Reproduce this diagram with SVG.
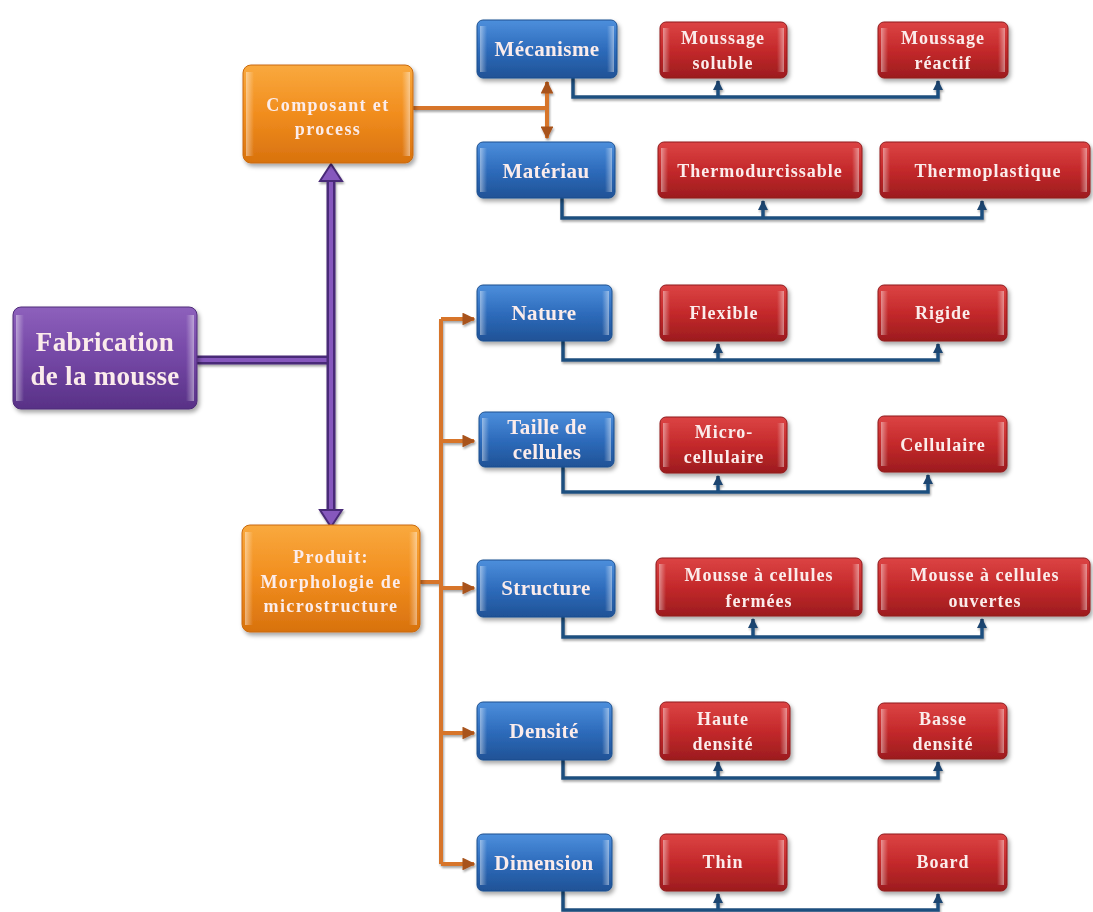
<svg xmlns="http://www.w3.org/2000/svg" width="1093" height="912" viewBox="0 0 1093 912">
<defs>
<linearGradient id="gBlue" x1="0" y1="0" x2="0" y2="1"><stop offset="0" stop-color="#4d8fdc"/><stop offset="0.5" stop-color="#2e6cbc"/><stop offset="1" stop-color="#1f5296"/></linearGradient>
<linearGradient id="gRed" x1="0" y1="0" x2="0" y2="1"><stop offset="0" stop-color="#dc4444"/><stop offset="0.5" stop-color="#c4292b"/><stop offset="1" stop-color="#9c1c1e"/></linearGradient>
<linearGradient id="gOrange" x1="0" y1="0" x2="0" y2="1"><stop offset="0" stop-color="#f9a93e"/><stop offset="0.5" stop-color="#f18d1e"/><stop offset="1" stop-color="#d8720e"/></linearGradient>
<linearGradient id="gPurple" x1="0" y1="0" x2="0" y2="1"><stop offset="0" stop-color="#8d60bc"/><stop offset="0.5" stop-color="#7447a5"/><stop offset="1" stop-color="#583186"/></linearGradient>
<linearGradient id="gEdge" x1="0" y1="0" x2="1" y2="0"><stop offset="0" stop-color="#fff" stop-opacity="0.45"/><stop offset="1" stop-color="#fff" stop-opacity="0"/></linearGradient>
<linearGradient id="gEdgeR" x1="1" y1="0" x2="0" y2="0"><stop offset="0" stop-color="#fff" stop-opacity="0.45"/><stop offset="1" stop-color="#fff" stop-opacity="0"/></linearGradient>
<filter id="sh" x="-10%" y="-10%" width="130%" height="140%"><feDropShadow dx="2" dy="3" stdDeviation="2" flood-color="#000" flood-opacity="0.35"/></filter>
<filter id="lsh" filterUnits="userSpaceOnUse" x="0" y="0" width="1093" height="912"><feDropShadow dx="1" dy="2" stdDeviation="1.2" flood-color="#000" flood-opacity="0.35"/></filter>
<marker id="mBlue" viewBox="0 0 10 10" refX="9" refY="5" markerWidth="3" markerHeight="3" orient="auto"><path d="M0,0 L10,5 L0,10 z" fill="#1c4470"/></marker>
<marker id="mOrange" viewBox="0 0 10 10" refX="9" refY="5" markerWidth="3.2" markerHeight="3.2" orient="auto"><path d="M0,0 L10,5 L0,10 z" fill="#a8521a"/></marker>
</defs>
<style>
.box{filter:url(#sh)}
.blue{fill:url(#gBlue);stroke:#1d4f8f;stroke-width:1}
.red{fill:url(#gRed);stroke:#8f1a1c;stroke-width:1}
.orange{fill:url(#gOrange);stroke:#c96a10;stroke-width:1}
.purple{fill:url(#gPurple);stroke:#4e2c78;stroke-width:1}
.el{fill:url(#gEdge)}
.er{fill:url(#gEdgeR)}
text{font-family:"Liberation Serif","DejaVu Serif",serif;font-weight:bold;fill:#fbeceb;text-anchor:middle}
.t18{font-size:21px;letter-spacing:0.4px}
.t17{font-size:18px;letter-spacing:1px}
.t16{font-size:18px;letter-spacing:1.4px}
.t26{font-size:27px;letter-spacing:0.3px}
.cb{fill:none;stroke:#1f4f7f;stroke-width:3.5}
.co{fill:none;stroke:#d7742a;stroke-width:4}
.lines{filter:url(#lsh)}
</style>

<g id="connectors">
  <g id="purple-conn" class="lines">
    <path d="M197 360 H331" stroke="#4a2a78" stroke-width="9" fill="none"/>
    <path d="M197 360 H331" stroke="#8658bd" stroke-width="4" fill="none"/>
    <path d="M331 178 V514" stroke="#4a2a78" stroke-width="9" fill="none"/>
    <path d="M331 178 V514" stroke="#8658bd" stroke-width="4" fill="none"/>
    <polygon points="331,164 320,181 342,181" fill="#8658bd" stroke="#4a2a78" stroke-width="2"/>
    <polygon points="331,527 320,510 342,510" fill="#8658bd" stroke="#4a2a78" stroke-width="2"/>
  </g>
  <g id="orange-conn" class="lines">
    <path class="co" d="M413 108 H547"/>
    <path class="co" d="M547 108 V82" marker-end="url(#mOrange)"/>
    <path class="co" d="M547 108 V138" marker-end="url(#mOrange)"/>
    <path class="co" d="M420 582 H441"/>
    <path class="co" d="M441 319 V864"/>
    <path class="co" d="M441 319 H474" marker-end="url(#mOrange)"/>
    <path class="co" d="M441 441 H474" marker-end="url(#mOrange)"/>
    <path class="co" d="M441 588 H474" marker-end="url(#mOrange)"/>
    <path class="co" d="M441 733 H474" marker-end="url(#mOrange)"/>
    <path class="co" d="M441 864 H474" marker-end="url(#mOrange)"/>
  </g>
  <g id="blue-conn" class="lines">
    <path class="cb" d="M573 78 V97 H938 V81" marker-end="url(#mBlue)"/>
    <path class="cb" d="M718 97 V81" marker-end="url(#mBlue)"/>
    <path class="cb" d="M562 198 V218 H982 V201" marker-end="url(#mBlue)"/>
    <path class="cb" d="M763 218 V201" marker-end="url(#mBlue)"/>
    <path class="cb" d="M563 341 V360 H938 V344" marker-end="url(#mBlue)"/>
    <path class="cb" d="M718 360 V344" marker-end="url(#mBlue)"/>
    <path class="cb" d="M563 467 V492 H928 V475" marker-end="url(#mBlue)"/>
    <path class="cb" d="M718 492 V476" marker-end="url(#mBlue)"/>
    <path class="cb" d="M563 617 V637 H982 V619" marker-end="url(#mBlue)"/>
    <path class="cb" d="M753 637 V619" marker-end="url(#mBlue)"/>
    <path class="cb" d="M563 760 V778 H938 V762" marker-end="url(#mBlue)"/>
    <path class="cb" d="M718 778 V762" marker-end="url(#mBlue)"/>
    <path class="cb" d="M563 891 V910 H938 V894" marker-end="url(#mBlue)"/>
    <path class="cb" d="M718 910 V894" marker-end="url(#mBlue)"/>
  </g>
</g>

<g id="n-fabrication" class="box">
  <rect class="purple" x="13" y="307" width="184" height="102" rx="8"/>
  <rect class="el" x="16" y="315" width="8" height="86"/>
  <rect class="er" x="186" y="315" width="8" height="86"/>
  <text class="t26" x="105" y="351">Fabrication</text>
  <text class="t26" x="105" y="385">de la mousse</text>
</g>

<g id="n-composant" class="box">
  <rect class="orange" x="243" y="65" width="170" height="98" rx="8"/>
  <rect class="el" x="246" y="72" width="8" height="84"/>
  <rect class="er" x="402" y="72" width="8" height="84"/>
  <text class="t16" x="328" y="111">Composant et</text>
  <text class="t16" x="328" y="135">process</text>
</g>

<g id="n-produit" class="box">
  <rect class="orange" x="242" y="525" width="178" height="107" rx="8"/>
  <rect class="el" x="245" y="532" width="8" height="93"/>
  <rect class="er" x="409" y="532" width="8" height="93"/>
  <text class="t16" x="331" y="563">Produit:</text>
  <text class="t16" x="331" y="588">Morphologie de</text>
  <text class="t16" x="331" y="612">microstructure</text>
</g>

<g id="n-mecanisme" class="box">
  <rect class="blue" x="477" y="20" width="140" height="58" rx="6"/>
  <rect class="el" x="480" y="26" width="7" height="46"/>
  <rect class="er" x="607" y="26" width="7" height="46"/>
  <text class="t18" x="547" y="56">Mécanisme</text>
</g>
<g id="n-materiau" class="box">
  <rect class="blue" x="477" y="142" width="138" height="56" rx="6"/>
  <rect class="el" x="480" y="148" width="7" height="44"/>
  <rect class="er" x="605" y="148" width="7" height="44"/>
  <text class="t18" x="546" y="178">Matériau</text>
</g>
<g id="n-nature" class="box">
  <rect class="blue" x="477" y="285" width="135" height="56" rx="6"/>
  <rect class="el" x="480" y="291" width="7" height="44"/>
  <rect class="er" x="602" y="291" width="7" height="44"/>
  <text class="t18" x="544" y="320">Nature</text>
</g>
<g id="n-taille" class="box">
  <rect class="blue" x="479" y="412" width="135" height="55" rx="6"/>
  <rect class="el" x="482" y="418" width="7" height="43"/>
  <rect class="er" x="604" y="418" width="7" height="43"/>
  <text class="t18" x="547" y="434">Taille de</text>
  <text class="t18" x="547" y="459">cellules</text>
</g>
<g id="n-structure" class="box">
  <rect class="blue" x="477" y="560" width="138" height="57" rx="6"/>
  <rect class="el" x="480" y="566" width="7" height="45"/>
  <rect class="er" x="605" y="566" width="7" height="45"/>
  <text class="t18" x="546" y="595">Structure</text>
</g>
<g id="n-densite" class="box">
  <rect class="blue" x="477" y="702" width="135" height="58" rx="6"/>
  <rect class="el" x="480" y="708" width="7" height="46"/>
  <rect class="er" x="602" y="708" width="7" height="46"/>
  <text class="t18" x="544" y="738">Densité</text>
</g>
<g id="n-dimension" class="box">
  <rect class="blue" x="477" y="834" width="135" height="57" rx="6"/>
  <rect class="el" x="480" y="840" width="7" height="45"/>
  <rect class="er" x="602" y="840" width="7" height="45"/>
  <text class="t18" x="544" y="870">Dimension</text>
</g>

<g id="n-moussage-soluble" class="box">
  <rect class="red" x="660" y="22" width="127" height="56" rx="6"/>
  <rect class="el" x="663" y="28" width="7" height="44"/>
  <rect class="er" x="777" y="28" width="7" height="44"/>
  <text class="t17" x="723" y="44">Moussage</text>
  <text class="t17" x="723" y="69">soluble</text>
</g>
<g id="n-moussage-reactif" class="box">
  <rect class="red" x="878" y="22" width="130" height="56" rx="6"/>
  <rect class="el" x="881" y="28" width="7" height="44"/>
  <rect class="er" x="998" y="28" width="7" height="44"/>
  <text class="t17" x="943" y="44">Moussage</text>
  <text class="t17" x="943" y="69">réactif</text>
</g>
<g id="n-thermodurcissable" class="box">
  <rect class="red" x="658" y="142" width="204" height="56" rx="6"/>
  <rect class="el" x="661" y="148" width="7" height="44"/>
  <rect class="er" x="852" y="148" width="7" height="44"/>
  <text class="t17" x="760" y="177" letter-spacing="1.4">Thermodurcissable</text>
</g>
<g id="n-thermoplastique" class="box">
  <rect class="red" x="880" y="142" width="210" height="56" rx="6"/>
  <rect class="el" x="883" y="148" width="7" height="44"/>
  <rect class="er" x="1080" y="148" width="7" height="44"/>
  <text class="t17" x="988" y="177" letter-spacing="1.8">Thermoplastique</text>
</g>
<g id="n-flexible" class="box">
  <rect class="red" x="660" y="285" width="127" height="56" rx="6"/>
  <rect class="el" x="663" y="291" width="7" height="44"/>
  <rect class="er" x="777" y="291" width="7" height="44"/>
  <text class="t17" x="724" y="319">Flexible</text>
</g>
<g id="n-rigide" class="box">
  <rect class="red" x="878" y="285" width="129" height="56" rx="6"/>
  <rect class="el" x="881" y="291" width="7" height="44"/>
  <rect class="er" x="997" y="291" width="7" height="44"/>
  <text class="t17" x="943" y="319">Rigide</text>
</g>
<g id="n-microcellulaire" class="box">
  <rect class="red" x="660" y="417" width="127" height="56" rx="6"/>
  <rect class="el" x="663" y="423" width="7" height="44"/>
  <rect class="er" x="777" y="423" width="7" height="44"/>
  <text class="t17" x="724" y="438">Micro-</text>
  <text class="t17" x="724" y="463">cellulaire</text>
</g>
<g id="n-cellulaire" class="box">
  <rect class="red" x="878" y="416" width="129" height="56" rx="6"/>
  <rect class="el" x="881" y="422" width="7" height="44"/>
  <rect class="er" x="997" y="422" width="7" height="44"/>
  <text class="t17" x="943" y="451">Cellulaire</text>
</g>
<g id="n-fermees" class="box">
  <rect class="red" x="656" y="558" width="206" height="58" rx="6"/>
  <rect class="el" x="659" y="564" width="7" height="46"/>
  <rect class="er" x="852" y="564" width="7" height="46"/>
  <text class="t17" x="759" y="581">Mousse à cellules</text>
  <text class="t17" x="759" y="607">fermées</text>
</g>
<g id="n-ouvertes" class="box">
  <rect class="red" x="878" y="558" width="212" height="58" rx="6"/>
  <rect class="el" x="881" y="564" width="7" height="46"/>
  <rect class="er" x="1080" y="564" width="7" height="46"/>
  <text class="t17" x="985" y="581">Mousse à cellules</text>
  <text class="t17" x="985" y="607">ouvertes</text>
</g>
<g id="n-haute" class="box">
  <rect class="red" x="660" y="702" width="130" height="58" rx="6"/>
  <rect class="el" x="663" y="708" width="7" height="46"/>
  <rect class="er" x="780" y="708" width="7" height="46"/>
  <text class="t17" x="723" y="725">Haute</text>
  <text class="t17" x="723" y="750">densité</text>
</g>
<g id="n-basse" class="box">
  <rect class="red" x="878" y="703" width="129" height="56" rx="6"/>
  <rect class="el" x="881" y="709" width="7" height="44"/>
  <rect class="er" x="997" y="709" width="7" height="44"/>
  <text class="t17" x="943" y="725">Basse</text>
  <text class="t17" x="943" y="750">densité</text>
</g>
<g id="n-thin" class="box">
  <rect class="red" x="660" y="834" width="127" height="57" rx="6"/>
  <rect class="el" x="663" y="840" width="7" height="45"/>
  <rect class="er" x="777" y="840" width="7" height="45"/>
  <text class="t17" x="723" y="868">Thin</text>
</g>
<g id="n-board" class="box">
  <rect class="red" x="878" y="834" width="129" height="57" rx="6"/>
  <rect class="el" x="881" y="840" width="7" height="45"/>
  <rect class="er" x="997" y="840" width="7" height="45"/>
  <text class="t17" x="943" y="868">Board</text>
</g>
</svg>
